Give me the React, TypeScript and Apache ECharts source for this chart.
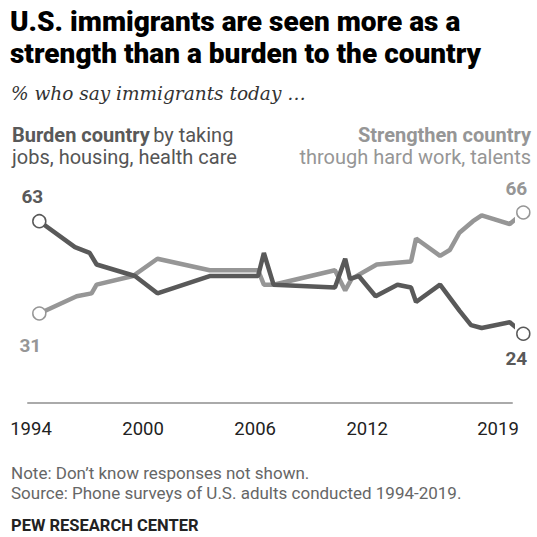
import React, { useEffect, useRef } from "react";
import * as echarts from "echarts";

const burdenYears = [1994.0, 1995.84, 1996.6, 1996.96, 1998.94, 2000.1, 2002.8, 2005.3, 2005.6, 2006.1, 2009.27, 2009.8, 2010.05, 2010.5, 2011.37, 2012.5, 2013.2, 2013.46, 2014.7, 2015.7, 2016.3, 2016.85, 2018.3, 2019.0];
const burdenValues = [63, 54, 52, 48, 44, 38, 44, 44, 52, 41, 40, 50, 43, 44, 37, 41, 40, 35, 41, 32, 27, 26, 28, 24];

const strengthYears = [1994.0, 1995.93, 1996.7, 1996.96, 1998.84, 2000.1, 2002.8, 2005.3, 2005.6, 2006.1, 2009.27, 2009.8, 2010.13, 2011.43, 2013.2, 2013.46, 2014.7, 2015.2, 2015.7, 2016.4, 2016.85, 2018.3, 2019.0];
const strengthValues = [31, 37, 38, 41, 44, 50, 46, 46, 41, 41, 46, 39, 43, 48, 49, 57, 51, 53, 59, 63, 65, 62, 66];

const tickYears = [1994, 2000, 2006, 2012, 2019];

const DARK = "#595959";
const LIGHT = "#969696";
const FONT = "Roboto, 'Liberation Sans', sans-serif";

function pairs(xs: number[], ys: number[]) {
  return xs.map((x, i) => [x, ys[i]]);
}

export default function App() {
  const ref = useRef<HTMLDivElement>(null);
  useEffect(() => {
    if (!ref.current) return;
    const chart = echarts.init(ref.current, null, { renderer: "svg" });
    const bLast = burdenValues.length - 1;
    const sLast = strengthValues.length - 1;
    const option: any = {
      animation: false,
      backgroundColor: "#fff",
      grid: { left: 28, right: 25, top: 201, height: 202, containLabel: false },
      xAxis: [
        { type: "value", min: 1993.416, max: 2018.416, show: false },
        {
          type: "value",
          min: 1993.84,
          max: 2019.75,
          position: "bottom",
          axisLine: { show: true, lineStyle: { color: "#aaaaaa", width: 2 } },
          axisTick: { show: false },
          splitLine: { show: false },
          axisLabel: {
            customValues: tickYears,
            formatter: (v: number) => String(v),
            margin: 16,
            fontSize: 18.5,
            fontFamily: FONT,
            color: "#222",
          },
        },
      ],
      yAxis: { type: "value", min: 0, max: 70, show: false },
      series: [
        {
          type: "line",
          xAxisIndex: 0,
          data: pairs(strengthYears, strengthValues),
          symbol: "none",
          lineStyle: { color: LIGHT, width: 4.5 },
          clip: false,
          z: 2,
        },
        {
          type: "line",
          xAxisIndex: 0,
          data: pairs(burdenYears, burdenValues),
          symbol: "none",
          lineStyle: { color: DARK, width: 4.5 },
          clip: false,
          z: 3,
        },
        {
          type: "scatter",
          xAxisIndex: 0,
          symbol: "circle",
          symbolSize: 13,
          clip: false,
          z: 5,
          itemStyle: { color: "#fff", borderColor: LIGHT, borderWidth: 1.5, opacity: 1 },
          label: { show: true, fontSize: 19, fontWeight: "bold", fontFamily: FONT, color: LIGHT, formatter: (p: any) => String(p.value[1]) },
          data: [
            { value: [strengthYears[0], strengthValues[0]], label: { position: "bottom", distance: 15, offset: [-9, 0] } },
            { value: [strengthYears[sLast], strengthValues[sLast]], label: { position: "top", distance: 7, offset: [-7, 0] } },
          ],
        },
        {
          type: "scatter",
          xAxisIndex: 0,
          symbol: "circle",
          symbolSize: 13,
          clip: false,
          z: 6,
          itemStyle: { color: "#fff", borderColor: DARK, borderWidth: 1.5, opacity: 1 },
          label: { show: true, fontSize: 19, fontWeight: "bold", fontFamily: FONT, color: DARK, formatter: (p: any) => String(p.value[1]) },
          data: [
            { value: [burdenYears[0], burdenValues[0]], label: { position: "top", distance: 8, offset: [-7, 0] } },
            { value: [burdenYears[bLast], burdenValues[bLast]], label: { position: "bottom", distance: 8, offset: [-7, 0] } },
          ],
        },
      ],
      graphic: [
        { type: "text", x: 10, y: 7, style: { text: "U.S. immigrants are seen more as a", font: `900 28px ${FONT}`, fill: "#000", verticalAlign: "top" } },
        { type: "text", x: 10, y: 39, style: { text: "strength than a burden to the country", font: `900 28px ${FONT}`, fill: "#000", verticalAlign: "top" } },
        { type: "text", x: 11, y: 84, style: { text: "% who say immigrants today \u2026", font: `italic 18.5px 'DejaVu Serif', serif`, fill: "#333", verticalAlign: "top" } },
        {
          type: "text", x: 12, y: 125,
          style: {
            text: "{b|Burden country} {r|by taking}",
            verticalAlign: "top",
            rich: {
              b: { fontFamily: FONT, fontSize: 20, fontWeight: "bold", fill: DARK },
              r: { fontFamily: FONT, fontSize: 20, fill: "#555" },
            },
          },
        },
        { type: "text", x: 12, y: 147, style: { text: "jobs, housing, health care", font: `20px ${FONT}`, fill: "#555", verticalAlign: "top" } },
        { type: "text", x: 531, y: 125, style: { text: "Strengthen country", font: `bold 20px ${FONT}`, fill: LIGHT, align: "right", verticalAlign: "top" } },
        { type: "text", x: 531, y: 147, style: { text: "through hard work, talents", font: `20px ${FONT}`, fill: LIGHT, align: "right", verticalAlign: "top" } },
        { type: "text", x: 11, y: 464, style: { text: "Note: Don\u2019t know responses not shown.", font: `17px ${FONT}`, fill: "#666", verticalAlign: "top" } },
        { type: "text", x: 11, y: 484, style: { text: "Source: Phone surveys of U.S. adults conducted 1994-2019.", font: `17px ${FONT}`, fill: "#666", verticalAlign: "top" } },
        { type: "text", x: 11, y: 517, style: { text: "PEW RESEARCH CENTER", font: `bold 16.5px ${FONT}`, fill: "#222", verticalAlign: "top" } },
      ],
    };
    chart.setOption(option);
    return () => chart.dispose();
  }, []);
  return <div ref={ref} style={{ position: "fixed", left: 0, top: 0, width: 537, height: 537 }} />;
}
